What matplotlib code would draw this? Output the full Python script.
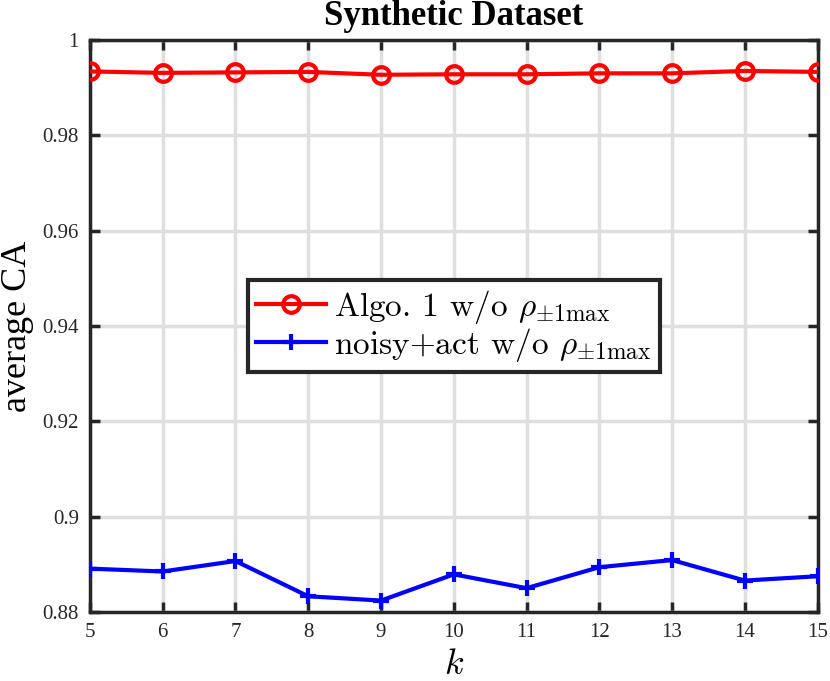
import numpy as np
import matplotlib
matplotlib.use('Agg')
import matplotlib.pyplot as plt

plt.rcParams['font.family'] = ['Liberation Serif', 'DejaVu Serif']
plt.rcParams['mathtext.fontset'] = 'cm'

# data
k = [5, 6, 7, 8, 9, 10, 11, 12, 13, 14, 15]
algo1 = [0.9934, 0.9931, 0.9932, 0.9933, 0.9927, 0.9928, 0.9928, 0.9930, 0.9930, 0.9935, 0.9933]
noisy_act = [0.8891, 0.8885, 0.8907, 0.8833, 0.8824, 0.8879, 0.8850, 0.8894, 0.8909, 0.8866, 0.8875]
yticks = [0.88, 0.9, 0.92, 0.94, 0.96, 0.98, 1]
ytick_labels = ['0.88', '0.9', '0.92', '0.94', '0.96', '0.98', '1']

edge = '#262626'

fig = plt.figure(figsize=(8.3, 6.81), dpi=100)
ax = fig.add_axes([0.1084, 0.1013, 0.8766, 0.84])

ax.plot(k, algo1, color='red', lw=3, marker='o', ms=12, mfc='none', mew=3,
        label=r'Algo. 1 w/o $\rho_{\pm 1\mathrm{max}}$', zorder=3)
ax.plot(k, noisy_act, color='blue', lw=3, marker='+', ms=12, mew=3,
        label=r'noisy+act w/o $\rho_{\pm 1\mathrm{max}}$', zorder=3)

ax.set_xlim(5, 15)
ax.set_ylim(0.88, 1)
ax.set_xticks(k)
ax.set_yticks(yticks)
ax.set_yticklabels(ytick_labels)
ax.grid(True, color='#dfdfdf', lw=2.5)
ax.set_axisbelow(True)
ax.tick_params(direction='in', length=7, width=2.5, colors=edge, labelsize=15,
               top=True, right=True, pad=8)
for s in ax.spines.values():
    s.set_linewidth(2.5)
    s.set_color(edge)

ax.set_title('Synthetic Dataset', fontsize=25, fontweight='bold', pad=11)
ax.set_xlabel(r'$k$', fontsize=26, labelpad=5)
ax.set_ylabel('average CA', fontsize=26, labelpad=6)

leg = ax.legend(loc='center', prop={'family': 'cmr10', 'size': 24},
                handlelength=2.1, handletextpad=0.25, borderpad=0.25,
                labelspacing=0.0, fancybox=False, framealpha=1, borderaxespad=0)
leg.get_frame().set_edgecolor(edge)
leg.get_frame().set_linewidth(3)

fig.savefig('out.png', dpi=100)
